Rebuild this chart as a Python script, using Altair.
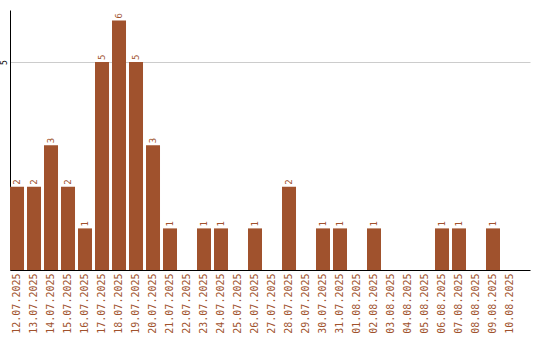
import altair as alt
import pandas as pd

dates = ["12.07.2025", "13.07.2025", "14.07.2025", "15.07.2025", "16.07.2025",
         "17.07.2025", "18.07.2025", "19.07.2025", "20.07.2025", "21.07.2025",
         "22.07.2025", "23.07.2025", "24.07.2025", "25.07.2025", "26.07.2025",
         "27.07.2025", "28.07.2025", "29.07.2025", "30.07.2025", "31.07.2025",
         "01.08.2025", "02.08.2025", "03.08.2025", "04.08.2025", "05.08.2025",
         "06.08.2025", "07.08.2025", "08.08.2025", "09.08.2025", "10.08.2025"]
counts = [2, 2, 3, 2, 1, 5, 6, 5, 3, 1,
          0, 1, 1, 0, 1, 0, 2, 0, 1, 1,
          0, 1, 0, 0, 0, 1, 1, 0, 1, 0]

df = pd.DataFrame({"date": dates, "count": counts})
df["label"] = df["count"].apply(lambda v: str(v) if v > 0 else "")

COLOR = "#A0522D"

x = alt.X("date:N", sort=None, title=None,
          scale=alt.Scale(paddingInner=0.176, paddingOuter=0.382, align=0),
          axis=alt.Axis(labelAngle=-90, labelColor=COLOR, labelFont="DejaVu Sans Mono",
                        labelFontSize=10, ticks=False, domainColor="black",
                        labelPadding=3, grid=False))
y = alt.Y("count:Q", title=None,
          scale=alt.Scale(domain=[0, 6.25], nice=False),
          axis=alt.Axis(values=[5], ticks=False, labelAngle=-90, labelFontSize=8,
                        labelFont="DejaVu Sans Mono", labelColor="black",
                        domainColor="black", gridColor="#cccccc", labelPadding=2))

bars = alt.Chart(df).mark_bar(color=COLOR).encode(x=x, y=y)
texts = alt.Chart(df).mark_text(angle=270, align="left", baseline="middle", dx=2,
                                color=COLOR, font="DejaVu Sans Mono", fontSize=9).encode(
    x=alt.X("date:N", sort=None), y="count:Q", text="label:N")

chart = (bars + texts).properties(
    width=520, height=260,
    background="white",
    autosize=alt.AutoSizeParams(type="none"),
    padding={"left": 10, "top": 10, "right": 10, "bottom": 70},
).configure_view(stroke=None)

chart.save("out.html", embed_options={"renderer": "svg", "actions": False})
